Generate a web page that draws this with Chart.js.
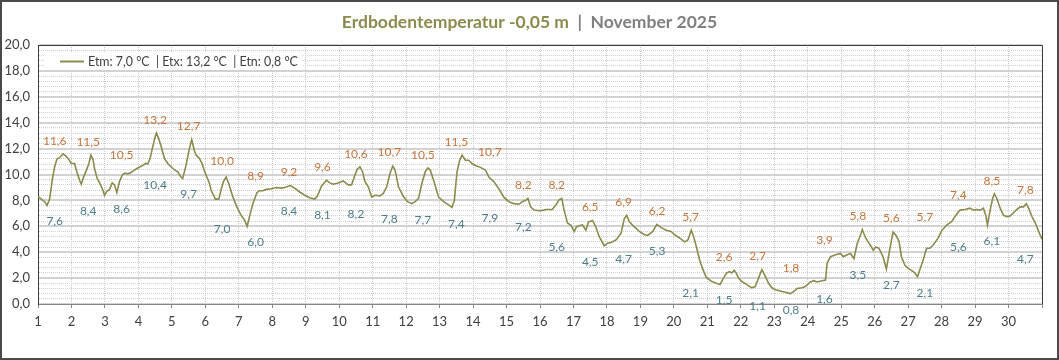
<!DOCTYPE html>
<html>
<head>
<meta charset="utf-8">
<script src="https://cdn.jsdelivr.net/npm/chart.js@4.4.1/dist/chart.umd.min.js"></script>
<style>
  html, body { margin: 0; padding: 0; background: #fff; }
  #wrap { width: 1059px; height: 360px; }
</style>
</head>
<body>
<div id="wrap"><canvas id="soilChart" width="1059" height="360"></canvas></div>
<script>
// day of month (decimal) of each reading
var times = [
    1.000, 1.099, 1.199, 1.268, 1.348, 1.427, 1.497, 1.567, 1.646, 1.746, 1.845, 1.924, 1.994,
    2.093, 2.163, 2.243, 2.292, 2.362, 2.441, 2.521, 2.581, 2.640, 2.690, 2.769, 2.859, 2.938, 2.988,
    3.058, 3.137, 3.217, 3.286, 3.356, 3.435, 3.515, 3.584, 3.684, 3.783, 3.883, 3.982,
    4.131, 4.211, 4.280, 4.350, 4.429, 4.489, 4.539, 4.608, 4.678, 4.777, 4.877, 4.976,
    5.076, 5.175, 5.274, 5.324, 5.423, 5.503, 5.592, 5.672, 5.722, 5.821, 5.901, 5.970,
    6.040, 6.119, 6.17, 6.30, 6.40, 6.47, 6.54, 6.62, 6.70, 6.82, 6.94,
    7.07, 7.17, 7.25, 7.32, 7.42, 7.54, 7.62, 7.72, 7.82, 7.97,
    8.12, 8.27, 8.37, 8.54, 8.67, 8.82, 8.97,
    9.12, 9.27, 9.34, 9.47, 9.62, 9.72, 9.82, 9.97,
    10.12, 10.27, 10.37, 10.47, 10.54, 10.62, 10.70, 10.77, 10.87, 10.97,
    11.07, 11.22, 11.32, 11.42, 11.52, 11.60, 11.67, 11.77, 11.92,
    12.04, 12.17, 12.27, 12.37, 12.47, 12.57, 12.65, 12.72, 12.82, 12.97,
    13.12, 13.27, 13.37, 13.44, 13.52, 13.60, 13.67, 13.77, 13.87, 13.97,
    14.07, 14.22, 14.37, 14.47, 14.62, 14.77, 14.92,
    15.07, 15.22, 15.37, 15.47, 15.57, 15.64, 15.72, 15.82, 15.97,
    16.12, 16.17, 16.37, 16.47, 16.57, 16.65, 16.72, 16.82, 16.92,
    17.02, 17.09, 17.17, 17.27, 17.37, 17.45, 17.57, 17.67, 17.77, 17.92,
    18.02, 18.12, 18.27, 18.42, 18.52, 18.59, 18.67, 18.82, 18.97,
    19.12, 19.22, 19.37, 19.49, 19.62, 19.77, 19.92,
    20.02, 20.17, 20.32, 20.42, 20.52, 20.59, 20.67, 20.77, 20.87, 20.97,
    21.12, 21.27, 21.38, 21.48, 21.58, 21.66, 21.73, 21.80, 21.86, 21.93,
    22.03, 22.18, 22.33, 22.43, 22.53, 22.63, 22.73, 22.83, 22.93,
    23.03, 23.18, 23.33, 23.48, 23.58, 23.68, 23.83, 23.93,
    24.08, 24.18, 24.28, 24.43, 24.53, 24.58, 24.68, 24.83, 24.98,
    25.06, 25.18, 25.28, 25.38, 25.48, 25.58, 25.63, 25.73, 25.83, 25.88, 25.96,
    26.03, 26.13, 26.25, 26.35, 26.45, 26.55, 26.65, 26.73, 26.80, 26.90,
    27.00, 27.10, 27.20, 27.28, 27.35, 27.45, 27.55, 27.65, 27.75, 27.90,
    28.00, 28.15, 28.30, 28.40, 28.55, 28.70, 28.85, 28.95,
    29.05, 29.15, 29.25, 29.33, 29.37, 29.45, 29.53, 29.58, 29.65, 29.75, 29.85, 29.95,
    30.05, 30.15, 30.25, 30.35, 30.45, 30.53, 30.60, 30.70, 30.80, 30.90, 31.00
]
// soil temperature at -0,05 m (°C), same order as times
var temps = [
    8.3, 8.1, 7.9, 7.6, 8.1, 9.6, 10.6, 11.2, 11.3, 11.6, 11.4, 11.15, 10.85,
    10.85, 10.2, 9.55, 9.25, 9.8, 10.3, 10.85, 11.5, 11.2, 10.45, 9.7, 9.25, 8.8, 8.4,
    8.7, 8.85, 9.35, 9.2, 8.6, 9.45, 9.95, 10.1, 10.05, 10.15, 10.35, 10.5,
    10.7, 10.85, 10.8, 11.25, 12.15, 12.8, 13.2, 12.75, 12.2, 11.25, 10.85, 10.6,
    10.35, 10.2, 9.8, 9.7, 10.7, 11.75, 12.7, 11.85, 11.5, 11.25, 10.85, 10.3,
    9.85, 9.35, 8.8, 8.1, 8.1, 8.8, 9.45, 9.8, 9.3, 8.3, 7.5,
    6.85, 6.5, 6.0, 6.75, 7.75, 8.6, 8.75, 8.75, 8.85, 8.9,
    9.0, 8.95, 9.0, 9.15, 8.95, 8.65, 8.4,
    8.2, 8.1, 8.3, 9.1, 9.55, 9.35, 9.25, 9.35,
    9.5, 9.2, 9.2, 9.95, 10.4, 10.6, 10.2, 9.45, 9.05, 8.25,
    8.4, 8.35, 8.55, 9.05, 10.1, 10.65, 10.35, 9.05, 8.3,
    7.9, 7.75, 7.9, 8.15, 9.3, 10.2, 10.5, 10.35, 9.55, 8.25,
    7.9, 7.65, 7.45, 8.0, 10.2, 11.1, 11.5, 11.1, 11.1, 10.85,
    10.7, 10.55, 10.35, 9.8, 9.45, 8.9, 8.25,
    7.9, 7.75, 7.7, 7.9, 8.0, 8.15, 7.5, 7.25, 7.2,
    7.25, 7.3, 7.3, 7.65, 8.05, 8.15, 7.25, 6.25, 6.1,
    5.6, 5.95, 6.05, 6.1, 5.7, 6.35, 6.45, 5.95, 5.2, 4.5,
    4.7, 4.75, 4.95, 5.45, 6.6, 6.85, 6.35, 5.95, 5.6,
    5.35, 5.3, 5.6, 6.15, 5.9, 5.7, 5.6,
    5.35, 5.1, 4.8, 4.95, 5.7, 5.2, 4.45, 3.4, 2.65, 2.05,
    1.75, 1.6, 1.5, 2.0, 2.4, 2.5, 2.4, 2.6, 2.4, 2.0,
    1.75, 1.5, 1.25, 1.35, 2.0, 2.65, 2.15, 1.6, 1.25,
    1.1, 1.0, 0.9, 0.8, 0.95, 1.2, 1.25, 1.35,
    1.7, 1.8, 1.7, 1.8, 1.85, 3.15, 3.65, 3.8, 3.9,
    3.65, 3.8, 3.9, 3.5, 4.7, 5.35, 5.75, 5.1, 4.7, 4.5, 4.15,
    4.4, 4.3, 3.65, 2.7, 4.2, 5.55, 5.25, 4.8, 3.65, 3.0,
    2.75, 2.6, 2.4, 2.1, 2.65, 3.4, 4.3, 4.3, 4.55, 5.1,
    5.65, 6.1, 6.35, 6.75, 7.25, 7.3, 7.4, 7.25,
    7.3, 7.25, 7.4, 6.75, 6.1, 7.25, 8.2, 8.5, 8.15, 7.4, 6.85, 6.75,
    6.8, 7.05, 7.3, 7.5, 7.5, 7.75, 7.4, 6.75, 6.25, 5.6, 5.0
]

// daily extremes written in the chart
var days = [1, 2, 3, 4, 5, 6, 7, 8, 9, 10, 11, 12, 13, 14, 15, 16, 17, 18, 19, 20, 21, 22, 23, 24, 25, 26, 27, 28, 29, 30]
var dayMax = [11.6, 11.5, 10.5, 13.2, 12.7, 10.0, 8.9, 9.2, 9.6, 10.6, 10.7, 10.5, 11.5, 10.7, 8.2,
              8.2, 6.5, 6.9, 6.2, 5.7, 2.6, 2.7, 1.8, 3.9, 5.8, 5.6, 5.7, 7.4, 8.5, 7.8]
var dayMin = [7.6, 8.4, 8.6, 10.4, 9.7, 7.0, 6.0, 8.4, 8.1, 8.2, 7.8, 7.7, 7.4, 7.9, 7.2,
              5.6, 4.5, 4.7, 5.3, 2.1, 1.5, 1.1, 0.8, 1.6, 3.5, 2.7, 2.1, 5.6, 6.1, 4.7]

// month summary for the legend
var statNames = ['Etm', 'Etx', 'Etn']
var statValues = [7.0, 13.2, 0.8]

var titleParts = ['Erdbodentemperatur -0,05 m', '  |  ', 'November 2025']

var lineColor = '#8c8a4c'
var maxColor = '#c4763f'
var minColor = '#4d7d8c'
var fontName = 'Lato, "Open Sans", sans-serif'

function comma(v) {
    return v.toFixed(1).replace('.', ',')
}

function isMajor(ctx) {
    if (!ctx || !ctx.tick) return false
    var v = ctx.tick.value
    return Math.abs(v / 2 - Math.round(v / 2)) < 1e-6
}

var legendText = statNames.map(function (n, i) {
    return n + ': ' + comma(statValues[i]) + ' °C'
}).join('  | ')

// title, legend box, frame and the day labels
var decorPlugin = {
    id: 'decor',
    afterDatasetsDraw: function (chart) {
        var c = chart.ctx
        var a = chart.chartArea
        c.save()

        // min / max labels
        c.font = '12px ' + fontName
        c.textAlign = 'center'
        c.textBaseline = 'middle'
        var maxMeta = chart.getDatasetMeta(1)
        var minMeta = chart.getDatasetMeta(2)
        maxMeta.data.forEach(function (pt, i) {
            c.fillStyle = maxColor
            c.fillText(comma(dayMax[i]), pt.x, pt.y - 13)
        })
        minMeta.data.forEach(function (pt, i) {
            c.fillStyle = minColor
            c.fillText(comma(dayMin[i]), pt.x, pt.y + 16)
        })

        // plot frame (top and right)
        c.strokeStyle = '#3c3c3c'
        c.lineWidth = 1
        c.beginPath()
        c.moveTo(a.left, a.top + 0.5)
        c.lineTo(a.right + 0.5, a.top + 0.5)
        c.lineTo(a.right + 0.5, a.bottom)
        c.stroke()

        // legend
        c.fillStyle = '#ffffff'
        c.fillRect(a.left + 6, a.top + 8, 258, 17)
        c.strokeStyle = lineColor
        c.lineWidth = 2
        c.beginPath()
        c.moveTo(a.left + 22, a.top + 16.5)
        c.lineTo(a.left + 46, a.top + 16.5)
        c.stroke()
        c.font = '12.4px ' + fontName
        c.fillStyle = '#404040'
        c.textAlign = 'left'
        c.fillText(chart.data.datasets[0].label, a.left + 50, a.top + 17)

        // title
        c.font = 'bold 17.5px ' + fontName
        var widths = titleParts.map(function (t) { return c.measureText(t).width })
        var total = widths.reduce(function (s, w) { return s + w }, 0)
        var x = chart.width / 2 - total / 2
        var cols = [lineColor, '#7f7f7f', '#7f7f7f']
        titleParts.forEach(function (t, i) {
            c.fillStyle = cols[i]
            c.fillText(t, x, 22)
            x += widths[i]
        })

        // outer frame
        c.strokeStyle = '#4a4a4a'
        c.lineWidth = 2
        c.strokeRect(1, 1, chart.width - 2, chart.height - 2)
        c.restore()
    }
}

var ctx = document.getElementById('soilChart').getContext('2d')
var soilChart = new Chart(ctx, {
    type: 'line',
    data: {
        datasets: [
            {
                label: legendText,
                data: times.map(function (t, i) { return {x: t, y: temps[i]} }),
                borderColor: lineColor,
                borderWidth: 1.6,
                pointRadius: 0,
                tension: 0
            },
            {
                label: 'max',
                data: days.map(function (d, i) { return {x: d + 0.5, y: dayMax[i]} }),
                showLine: false,
                pointRadius: 0
            },
            {
                label: 'min',
                data: days.map(function (d, i) { return {x: d + 0.5, y: dayMin[i]} }),
                showLine: false,
                pointRadius: 0
            }
        ]
    },
    options: {
        responsive: false,
        animation: false,
        layout: {padding: {top: 45, right: 17, left: 0, bottom: 0}},
        plugins: {
            legend: {display: false},
            title: {display: false},
            tooltip: {enabled: false}
        },
        scales: {
            x: {
                type: 'linear',
                min: 1,
                max: 31,
                afterFit: function (s) { s.height = 56 },
                ticks: {
                    stepSize: 1,
                    autoSkip: false,
                    maxRotation: 0,
                    padding: 6,
                    color: '#404040',
                    font: {family: fontName, size: 13},
                    callback: function (v) { return v < 31 ? String(v) : '' }
                },
                grid: {
                    color: '#c8c8c8',
                    lineWidth: 1,
                    tickLength: 4,
                    tickColor: '#868686',
                    tickBorderDash: []
                },
                border: {color: '#868686', width: 1, dash: [1, 1]}
            },
            y: {
                min: 0,
                max: 20,
                afterFit: function (s) { s.width = 38 },
                ticks: {
                    stepSize: 0.4,
                    autoSkip: false,
                    padding: 8,
                    color: '#404040',
                    font: {family: fontName, size: 13},
                    callback: function (v) {
                        return Math.abs(v / 2 - Math.round(v / 2)) < 1e-6 ? comma(v) : ''
                    }
                },
                grid: {
                    drawTicks: false,
                    color: function (c) { return isMajor(c) ? '#d2d2d2' : '#cfcfcf' },
                    lineWidth: function (c) { return isMajor(c) ? 2 : 1 }
                },
                border: {
                    color: '#3c3c3c',
                    width: 1,
                    dash: function (c) { return isMajor(c) ? [] : [1, 1] }
                }
            }
        }
    },
    plugins: [decorPlugin]
})
</script>
</body>
</html>
